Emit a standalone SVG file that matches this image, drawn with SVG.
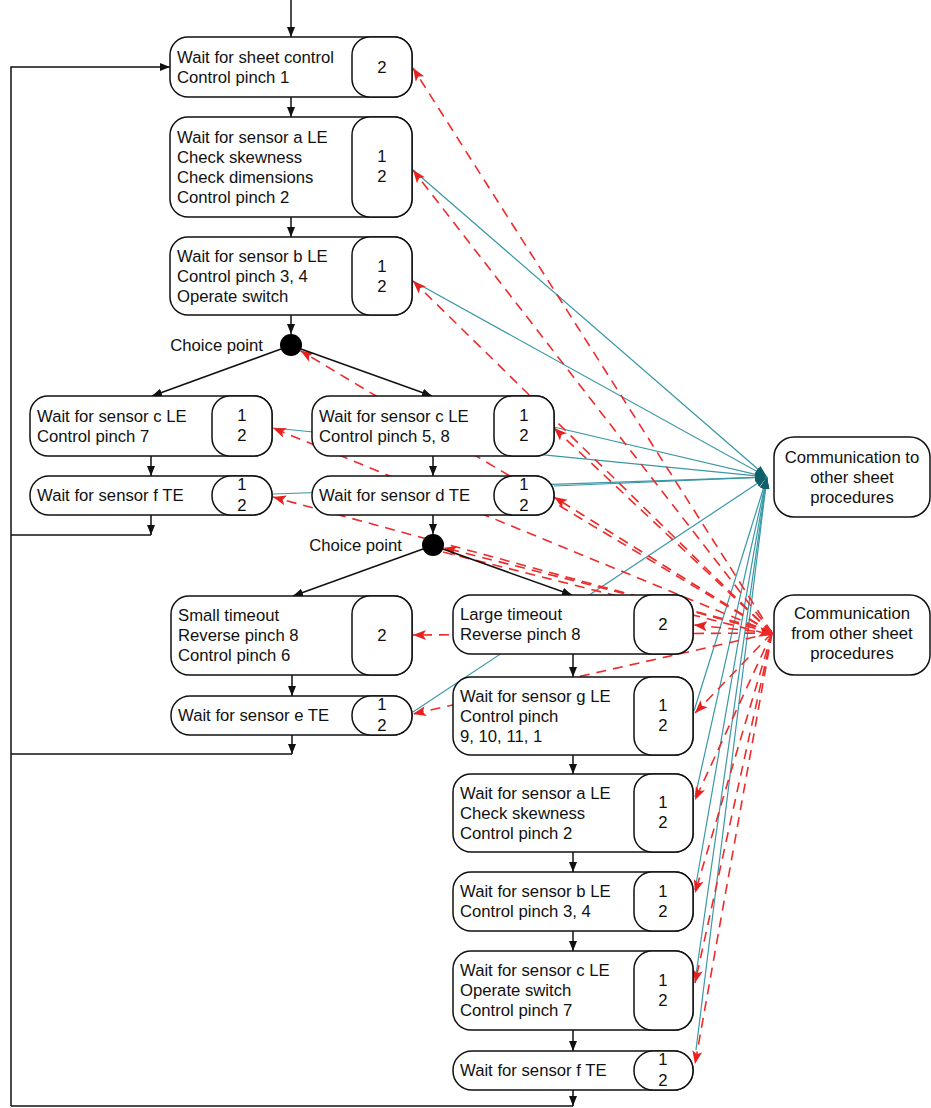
<svg xmlns="http://www.w3.org/2000/svg" width="931" height="1108" viewBox="0 0 931 1108">
<style>
text{font-family:"Liberation Sans",Arial,sans-serif;font-size:16.7px;fill:#111}
.c{text-anchor:middle}
.box{fill:#fff;stroke:#111;stroke-width:1.5}
.flow{fill:none;stroke:#111;stroke-width:1.5}
.to{fill:none;stroke:#3a98a6;stroke-width:1.2}
.from{fill:none;stroke:#ee2b2b;stroke-width:1.6;stroke-dasharray:10 7}
.cp{fill:#000}
</style>
<defs>
<marker id="ab" markerUnits="userSpaceOnUse" markerWidth="11" markerHeight="9" refX="10" refY="4" orient="auto"><path d="M0,0 L10,4 L0,8 z" fill="#111"/></marker>
<marker id="ar" markerUnits="userSpaceOnUse" markerWidth="14" markerHeight="11" refX="13" refY="5" orient="auto"><path d="M0,0 L13,5 L0,10 L3,5 z" fill="#e8201e"/></marker>
<marker id="at" markerUnits="userSpaceOnUse" markerWidth="13" markerHeight="9" refX="12" refY="4" orient="auto"><path d="M0,0 L12,4 L0,8 z" fill="#0e5f6a"/></marker>
</defs>
<g id="connectors">
<g id="teal">
<path class="to" marker-end="url(#at)" d="M413,170 L767,477"/>
<path class="to" marker-end="url(#at)" d="M413,281 L767,477"/>
<path class="to" marker-end="url(#at)" d="M273,428 L767,477"/>
<path class="to" marker-end="url(#at)" d="M554,427 L767,477"/>
<path class="to" marker-end="url(#at)" d="M273,494 L767,477"/>
<path class="to" marker-end="url(#at)" d="M554,486 L767,477"/>
<path class="to" marker-end="url(#at)" d="M413,712 L767,477"/>
<path class="to" marker-end="url(#at)" d="M694,711 L767,477"/>
<path class="to" marker-end="url(#at)" d="M695,797 L767,477"/>
<path class="to" marker-end="url(#at)" d="M695,890 L767,477"/>
<path class="to" marker-end="url(#at)" d="M695,982 L767,477"/>
<path class="to" marker-end="url(#at)" d="M696,1050 L767,477"/>
</g>
<g id="red">
<path class="from" marker-end="url(#ar)" d="M772,633 L413,68"/>
<path class="from" marker-end="url(#ar)" d="M772,633 L413,170"/>
<path class="from" marker-end="url(#ar)" d="M772,633 L413,281"/>
<path class="from" marker-end="url(#ar)" d="M772,633 L300.5,350.7"/>
<path class="from" marker-end="url(#ar)" d="M772,633 L273,428"/>
<path class="from" marker-end="url(#ar)" d="M772,633 L554,428"/>
<path class="from" marker-end="url(#ar)" d="M772,633 L273,497"/>
<path class="from" marker-end="url(#ar)" d="M772,633 L554,497"/>
<path class="from" marker-end="url(#ar)" d="M772,631 L443.7,547.7"/>
<path class="from" marker-end="url(#ar)" d="M443,552 L772,635"/>
<path class="from" marker-end="url(#ar)" d="M772,633 L413,635"/>
<path class="from" marker-end="url(#ar)" d="M772,633 L694,625"/>
<path class="from" marker-end="url(#ar)" d="M772,633 L413,714"/>
<path class="from" marker-end="url(#ar)" d="M772,633 L695,713"/>
<path class="from" marker-end="url(#ar)" d="M772,633 L695,800"/>
<path class="from" marker-end="url(#ar)" d="M772,633 L695,893"/>
<path class="from" marker-end="url(#ar)" d="M772,633 L695,983"/>
<path class="from" marker-end="url(#ar)" d="M772,633 L695,1064"/>
</g>
<g id="flow">
<path class="flow" marker-end="url(#ab)" d="M291,0 V37"/>
<path class="flow" marker-end="url(#ab)" d="M291,97 V117"/>
<path class="flow" marker-end="url(#ab)" d="M291,217 V237"/>
<path class="flow" marker-end="url(#ab)" d="M291,315 V334"/>
<path class="flow" marker-end="url(#ab)" d="M281,349 L152,396"/>
<path class="flow" marker-end="url(#ab)" d="M301,349 L432,396"/>
<path class="flow" marker-end="url(#ab)" d="M151,456 V476"/>
<path class="flow" marker-end="url(#ab)" d="M433,456 V476"/>
<path class="flow" marker-end="url(#ab)" d="M151,515 V535"/>
<path class="flow" d="M11,535 H151"/>
<path class="flow" marker-end="url(#ab)" d="M433,515 V534"/>
<path class="flow" marker-end="url(#ab)" d="M423,549 L293,596"/>
<path class="flow" marker-end="url(#ab)" d="M443,549 L572,595"/>
<path class="flow" marker-end="url(#ab)" d="M292,675 V696"/>
<path class="flow" marker-end="url(#ab)" d="M573,654 V677"/>
<path class="flow" marker-end="url(#ab)" d="M292,735 V754"/>
<path class="flow" d="M11,754 H292"/>
<path class="flow" marker-end="url(#ab)" d="M573,755 V774"/>
<path class="flow" marker-end="url(#ab)" d="M573,852 V872"/>
<path class="flow" marker-end="url(#ab)" d="M573,931 V951"/>
<path class="flow" marker-end="url(#ab)" d="M573,1030 V1051"/>
<path class="flow" marker-end="url(#ab)" d="M573,1090 V1106"/>
<path class="flow" d="M11,1106 H573"/>
<path class="flow" marker-end="url(#ab)" d="M11,1106 V67 H170"/>
</g>
</g>
<g id="n1">
<rect class="box" x="170" y="37" width="242" height="60" rx="18"/>
<rect class="box" x="352" y="37" width="60" height="60" rx="18"/>
<text x="177" y="63">Wait for sheet control</text>
<text x="177" y="83">Control pinch 1</text>
<text class="c" x="382" y="73">2</text>
</g>
<g id="n2">
<rect class="box" x="170" y="117" width="242" height="100" rx="18"/>
<rect class="box" x="352" y="117" width="60" height="100" rx="18"/>
<text x="177" y="143">Wait for sensor a LE</text>
<text x="177" y="163">Check skewness</text>
<text x="177" y="183">Check dimensions</text>
<text x="177" y="203">Control pinch 2</text>
<text class="c" x="382" y="162">1</text>
<text class="c" x="382" y="182">2</text>
</g>
<g id="n3">
<rect class="box" x="170" y="237" width="242" height="78" rx="18"/>
<rect class="box" x="352" y="237" width="60" height="78" rx="18"/>
<text x="177" y="262">Wait for sensor b LE</text>
<text x="177" y="282">Control pinch 3, 4</text>
<text x="177" y="302">Operate switch</text>
<text class="c" x="382" y="272">1</text>
<text class="c" x="382" y="292">2</text>
</g>
<g id="cp1">
<circle class="cp" cx="291" cy="345" r="11"/>
<text x="263" y="351" text-anchor="end">Choice point</text>
</g>
<g id="n4">
<rect class="box" x="30" y="396" width="242" height="60" rx="18"/>
<rect class="box" x="212" y="396" width="60" height="60" rx="18"/>
<text x="37" y="422">Wait for sensor c LE</text>
<text x="37" y="442">Control pinch 7</text>
<text class="c" x="242" y="421">1</text>
<text class="c" x="242" y="441">2</text>
</g>
<g id="n5">
<rect class="box" x="312" y="396" width="242" height="60" rx="18"/>
<rect class="box" x="494" y="396" width="60" height="60" rx="18"/>
<text x="319" y="422">Wait for sensor c LE</text>
<text x="319" y="442">Control pinch 5, 8</text>
<text class="c" x="524" y="421">1</text>
<text class="c" x="524" y="441">2</text>
</g>
<g id="n6">
<rect class="box" x="30" y="476" width="242" height="39" rx="19"/>
<rect class="box" x="212" y="476" width="60" height="39" rx="19"/>
<text x="37" y="501">Wait for sensor f TE</text>
<text class="c" x="242" y="490">1</text>
<text class="c" x="242" y="511">2</text>
</g>
<g id="n7">
<rect class="box" x="312" y="476" width="242" height="39" rx="19"/>
<rect class="box" x="494" y="476" width="60" height="39" rx="19"/>
<text x="319" y="501">Wait for sensor d TE</text>
<text class="c" x="524" y="490">1</text>
<text class="c" x="524" y="511">2</text>
</g>
<g id="cp2">
<circle class="cp" cx="433" cy="545" r="11"/>
<text x="402" y="551" text-anchor="end">Choice point</text>
</g>
<g id="n8">
<rect class="box" x="171" y="596" width="241" height="79" rx="18"/>
<rect class="box" x="352" y="596" width="60" height="79" rx="18"/>
<text x="178" y="621">Small timeout</text>
<text x="178" y="641">Reverse pinch 8</text>
<text x="178" y="661">Control pinch 6</text>
<text class="c" x="382" y="641">2</text>
</g>
<g id="n9">
<rect class="box" x="453" y="595" width="240" height="59" rx="18"/>
<rect class="box" x="634" y="595" width="59" height="59" rx="18"/>
<text x="460" y="620">Large timeout</text>
<text x="460" y="640">Reverse pinch 8</text>
<text class="c" x="663" y="630">2</text>
</g>
<g id="n10">
<rect class="box" x="171" y="696" width="241" height="39" rx="19"/>
<rect class="box" x="352" y="696" width="60" height="39" rx="19"/>
<text x="178" y="721">Wait for sensor e TE</text>
<text class="c" x="382" y="710">1</text>
<text class="c" x="382" y="731">2</text>
</g>
<g id="n11">
<rect class="box" x="453" y="677" width="240" height="78" rx="18"/>
<rect class="box" x="634" y="677" width="59" height="78" rx="18"/>
<text x="460" y="702">Wait for sensor g LE</text>
<text x="460" y="722">Control pinch</text>
<text x="460" y="742">9, 10, 11, 1</text>
<text class="c" x="663" y="711">1</text>
<text class="c" x="663" y="731">2</text>
</g>
<g id="n12">
<rect class="box" x="453" y="774" width="240" height="78" rx="18"/>
<rect class="box" x="634" y="774" width="59" height="78" rx="18"/>
<text x="460" y="799">Wait for sensor a LE</text>
<text x="460" y="819">Check skewness</text>
<text x="460" y="839">Control pinch 2</text>
<text class="c" x="663" y="808">1</text>
<text class="c" x="663" y="828">2</text>
</g>
<g id="n13">
<rect class="box" x="453" y="872" width="240" height="59" rx="18"/>
<rect class="box" x="634" y="872" width="59" height="59" rx="18"/>
<text x="460" y="897">Wait for sensor b LE</text>
<text x="460" y="917">Control pinch 3, 4</text>
<text class="c" x="663" y="897">1</text>
<text class="c" x="663" y="917">2</text>
</g>
<g id="n14">
<rect class="box" x="453" y="951" width="240" height="79" rx="18"/>
<rect class="box" x="634" y="951" width="59" height="79" rx="18"/>
<text x="460" y="976">Wait for sensor c LE</text>
<text x="460" y="996">Operate switch</text>
<text x="460" y="1016">Control pinch 7</text>
<text class="c" x="663" y="986">1</text>
<text class="c" x="663" y="1006">2</text>
</g>
<g id="n15">
<rect class="box" x="453" y="1051" width="240" height="39" rx="19"/>
<rect class="box" x="634" y="1051" width="59" height="39" rx="19"/>
<text x="460" y="1076">Wait for sensor f TE</text>
<text class="c" x="663" y="1065">1</text>
<text class="c" x="663" y="1086">2</text>
</g>
<g id="comm-to">
<rect class="box" x="774" y="437" width="156" height="80" rx="20"/>
<text class="c" x="852" y="463">Communication to</text>
<text class="c" x="852" y="483">other sheet</text>
<text class="c" x="852" y="503">procedures</text>
</g>
<g id="comm-from">
<rect class="box" x="774" y="595" width="156" height="80" rx="20"/>
<text class="c" x="852" y="619">Communication</text>
<text class="c" x="852" y="639">from other sheet</text>
<text class="c" x="852" y="659">procedures</text>
</g>
</svg>
